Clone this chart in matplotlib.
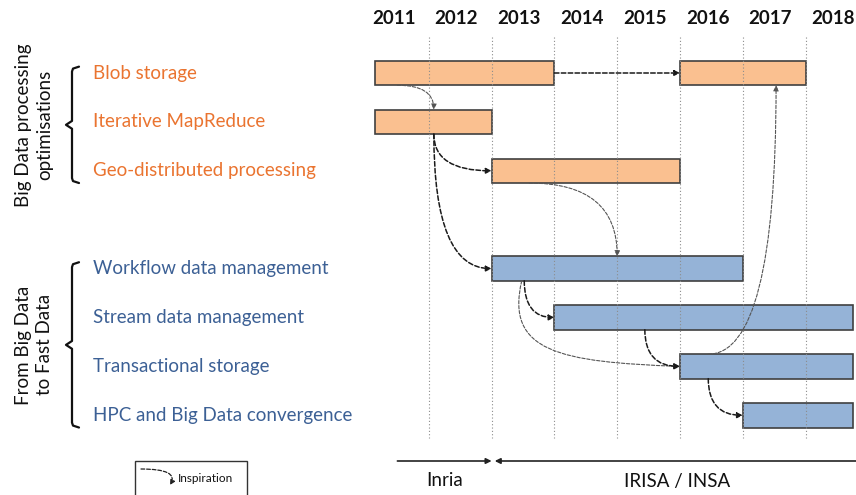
import matplotlib.pyplot as plt
from matplotlib.patches import FancyArrowPatch, Rectangle
from matplotlib.path import Path

plt.rcParams['font.family'] = ['Lato', 'DejaVu Sans']

# data
years = [2011, 2012, 2013, 2014, 2015, 2016, 2017, 2018]
tasks = ["Blob storage", "Iterative MapReduce", "Geo-distributed processing",
         "Workflow data management", "Stream data management",
         "Transactional storage", "HPC and Big Data convergence"]
task_rows = [0, 1, 2, 4, 5, 6, 7]
task_group = [0, 0, 0, 1, 1, 1, 1]
group_names = ["Big Data processing\noptimisations", "From Big Data\nto Fast Data"]

# bars: task index, start, end (fraction of year)
bar_task = [0, 0, 1, 2, 3, 4, 5, 6]
bar_start = [2011.15, 2016.0, 2011.15, 2013.0, 2013.0, 2014.0, 2016.0, 2017.0]
bar_end = [2014.0, 2018.0, 2013.0, 2016.0, 2017.0, 2018.75, 2018.75, 2018.75]

# inspiration links: from bar, side, x  ->  to bar, side, x
link_from = [(0, 'bottom', 2011.5), (0, 'right', None), (2, 'bottom', 2012.08),
             (2, 'bottom', 2012.08), (3, 'bottom', 2013.6), (4, 'bottom', 2013.52),
             (4, 'bottom', 2013.48), (5, 'bottom', 2015.44), (6, 'top', 2016.45),
             (6, 'bottom', 2016.45)]
link_to = [(2, 'top', 2012.08), (1, 'left', None), (3, 'left', None),
           (4, 'left', None), (4, 'top', 2015.0), (5, 'left', None),
           (6, 'left', None), (6, 'left', None), (1, 'bottom', 2017.53),
           (7, 'left', None)]
link_light = [True, False, False, False, True, False, True, False, True, False]

inst_names = ["Inria", "IRISA / INSA"]
inst_start = [2011.5, 2013.0]
inst_end = [2013.0, 2018.9]

orange_fill, orange_text = "#FAC090", "#EA7430"
blue_fill, blue_text = "#95B3D7", "#3C6095"
edge = "#404040"

W, H = 856, 495
YPX, RPX = 62.8, 48.9          # pixels per year / per row
X0 = 2011 - 366 / YPX


def px(x):
    return X0 + x / YPX


def py(y):
    return (y - 73) / RPX


fig = plt.figure(figsize=(8.56, 4.95), dpi=100)
ax = fig.add_axes([0, 0, 1, 1])
ax.set_xlim(px(0), px(W))
ax.set_ylim(py(H), py(0))
ax.axis('off')

# year grid and labels
for i, yr in enumerate(years):
    ax.text(yr + 0.44, py(18), str(yr), ha='center', va='center',
            fontsize=13.5, fontweight='bold', color='#111111')
    if i > 0:
        ax.plot([yr, yr], [py(37), py(438)], ls=(0, (1, 2)), lw=0.8,
                color='#8c8c8c', zorder=3)

# task labels
for name, row, g in zip(tasks, task_rows, task_group):
    ax.text(px(93), row, name, ha='left', va='center', fontsize=13.5,
            color=orange_text if g == 0 else blue_text)

# bars
bh = 0.5
for t, s, e in zip(bar_task, bar_start, bar_end):
    row = task_rows[t]
    ax.barh(row, e - s, left=s, height=bh,
            color=orange_fill if task_group[t] == 0 else blue_fill,
            edgecolor=edge, linewidth=1.2, zorder=2)


def anchor(b, side, x):
    row = task_rows[bar_task[b]]
    if side == 'left':
        return (bar_start[b], row)
    if side == 'right':
        return (bar_end[b], row)
    if side == 'top':
        return (x, row - bh / 2)
    return (x, row + bh / 2)


for (fb, fs, fx), (tb, ts, tx), light in zip(link_from, link_to, link_light):
    p0 = anchor(fb, fs, fx)
    p1 = anchor(tb, ts, tx)
    col = '#555555' if light else '#1a1a1a'
    lw = 0.8 if light else 1.1
    kw = dict(arrowstyle='-|>', mutation_scale=8, shrinkA=0, shrinkB=0,
              color=col, lw=lw, ls=(0, (3, 1.5)), zorder=4)
    if fs == 'right':
        arr = FancyArrowPatch(p0, p1, connectionstyle='arc3,rad=0', **kw)
    elif tb == 6 and fb == 4:
        # long sweep from workflow down to transactional storage
        verts = [p0, (px(505), py(352)), (px(560), py(362)), p1]
        arr = FancyArrowPatch(path=Path(verts, [Path.MOVETO] + [Path.CURVE4] * 3), **kw)
    elif ts == 'left':
        arr = FancyArrowPatch(p0, p1, connectionstyle='angle3,angleA=90,angleB=0', **kw)
    else:
        arr = FancyArrowPatch(p0, p1, connectionstyle='angle3,angleA=0,angleB=90', **kw)
    ax.add_patch(arr)

# group brackets and labels
for g, gname in enumerate(group_names):
    rows = [r for r, tg in zip(task_rows, task_group) if tg == g]
    top, bot = rows[0] - 0.13, rows[-1] + 0.25
    mid = (top + bot) / 2
    xs = [px(79), px(73), px(72), px(72), px(66), px(72), px(72), px(73), px(79)]
    ys = [top, top + 0.04, top + 0.1, mid - 0.08, mid, mid + 0.08, bot - 0.1, bot - 0.04, bot]
    ax.plot(xs, ys, color='#111111', lw=1.6, solid_capstyle='round')
    ax.text(px(34), mid, gname, rotation=90, ha='center', va='center',
            fontsize=13.5, linespacing=1.25, color='#111111')

# institutions
for name, s, e in zip(inst_names, inst_start, inst_end):
    if s < 2012:
        a, b = s, e
    else:
        a, b = e, s + 0.05
    ax.annotate('', xy=(b, py(461)), xytext=(a, py(461)),
                arrowprops=dict(arrowstyle='-|>', mutation_scale=8, color='#222222',
                                lw=1.2, shrinkA=0, shrinkB=0))
    ax.text((s + e) / 2, py(481), name, ha='center', va='center',
            fontsize=13.5, color='#111111')

# legend box
ax.add_patch(Rectangle((px(135), py(461)), px(247) - px(135), py(500) - py(461),
                       facecolor='white', edgecolor='#333333', lw=1.0, clip_on=False))
leg = FancyArrowPatch((px(141), py(469)), (px(170), py(485)),
                      connectionstyle='angle3,angleA=0,angleB=60',
                      arrowstyle='-|>', mutation_scale=7, shrinkA=0, shrinkB=0,
                      color='#222222', lw=0.9, ls=(0, (3, 1.5)))
ax.add_patch(leg)
ax.text(px(178), py(478), "Inspiration", ha='left', va='center', fontsize=8.5,
        color='#111111')

fig.savefig('out.png', dpi=100)
